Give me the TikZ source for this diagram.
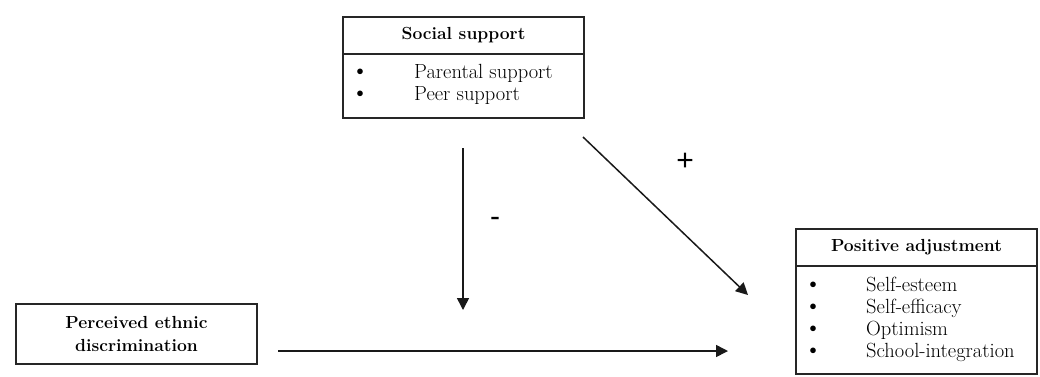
\documentclass[tikz,border=0pt]{standalone}
\usepackage{fontspec}
\newfontfamily\signfont{Liberation Sans}
\usetikzlibrary{arrows.meta}
\newcommand{\bul}{\smash{\fontsize{25}{25}\selectfont\textbullet}}
\begin{document}
\begin{tikzpicture}[x=1pt,y=-1pt,
  boxline/.style={draw=black!85,line width=1.6pt},
  box/.style={boxline,rectangle,inner sep=0pt,align=center,font=\fontsize{20.5}{22.5}\selectfont},
  headbox/.style={box,font=\fontsize{17.5}{22.5}\selectfont\bfseries},
  item/.style={anchor=base west,inner sep=0pt,font=\fontsize{20.5}{20.5}\selectfont},
  sign/.style={inner sep=0pt,font=\fontsize{30}{30}\signfont},
  arr/.style={line width=1.5pt,draw=black!90,-{Triangle[length=12pt,width=12pt]}}]
\useasboundingbox (0,0) rectangle (1040,376);
% Social support
\node[headbox,minimum width=241pt,minimum height=37pt] (sshead) at (463.5,35.5) {Social support};
\node[box,minimum width=241pt,minimum height=64pt] (ssbody) at (463.5,86) {};
\node[item] (ss1) at (414,78) {\llap{\bul\hspace{45pt}}Parental support};
\node[item] (ss2) at (414,100) {\llap{\bul\hspace{45pt}}Peer support};
% Positive adjustment
\node[headbox,minimum width=241pt,minimum height=37pt] (pahead) at (916.5,247.5) {Positive adjustment};
\node[box,minimum width=241pt,minimum height=108pt] (pabody) at (916.5,320) {};
\node[item] (pa1) at (866,291.5) {\llap{\bul\hspace{44pt}}Self-esteem};
\node[item] (pa2) at (866,313.5) {\llap{\bul\hspace{44pt}}Self-efficacy};
\node[item] (pa3) at (866,335.5) {\llap{\bul\hspace{44pt}}Optimism};
\node[item] (pa4) at (866,357.5) {\llap{\bul\hspace{44pt}}School-integration};
% Perceived ethnic discrimination
\node[headbox,minimum width=241pt,minimum height=60pt] (ped) at (136.5,334) {Perceived ethnic\\discrimination};
% connectors
\coordinate (v1) at (463,148);
\coordinate (v2) at (463,310);
\coordinate (d1) at (583,137);
\coordinate (d2) at (748,295);
\coordinate (h1) at (278,351);
\coordinate (h2) at (728,351);
\draw[arr] (v1) -- (v2);
\draw[arr] (d1) -- (d2);
\draw[arr] (h1) -- (h2);
\node[sign] (minus) at (495,222) {-};
\node[sign] (plus) at (685,162) {+};
\end{tikzpicture}
\end{document}
